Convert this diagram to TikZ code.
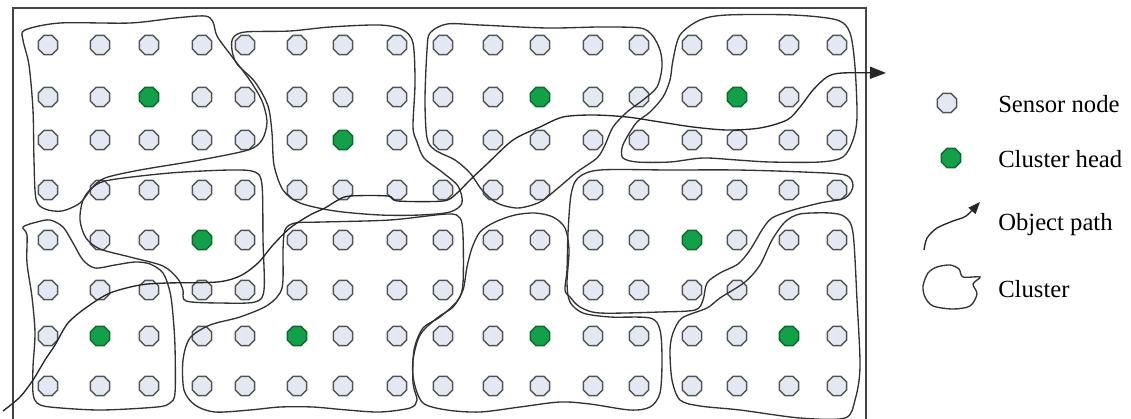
\documentclass[tikz,border=0pt]{standalone}
\usepackage{fontspec}
\setmainfont{Liberation Serif}
\usetikzlibrary{shapes.geometric,arrows.meta}
\definecolor{nodefill}{HTML}{E3E8F2}
\definecolor{nodeline}{HTML}{555555}
\definecolor{headfill}{HTML}{12A048}
\definecolor{headline}{HTML}{0B6B2E}
\definecolor{curvecol}{HTML}{333333}
\definecolor{framecol}{HTML}{444444}
\expandafter\def\csname hd3-2\endcsname{}
\expandafter\def\csname hd7-3\endcsname{}
\expandafter\def\csname hd11-2\endcsname{}
\expandafter\def\csname hd15-2\endcsname{}
\expandafter\def\csname hd4-5\endcsname{}
\expandafter\def\csname hd14-5\endcsname{}
\expandafter\def\csname hd2-7\endcsname{}
\expandafter\def\csname hd6-7\endcsname{}
\expandafter\def\csname hd11-7\endcsname{}
\expandafter\def\csname hd16-7\endcsname{}
\begin{document}
\begin{tikzpicture}[x=0.75pt,y=-0.75pt,
  sensor/.style={regular polygon,regular polygon sides=8,minimum size=15.6pt,inner sep=0pt,fill=nodefill,draw=nodeline,line width=1pt},
  head/.style={sensor,fill=headfill,draw=headline},
  cluster/.style={draw=curvecol,line width=1pt},
  track/.style={draw=black!85,line width=1pt,-{Triangle[length=12pt,width=9pt]}},
  legendtrack/.style={draw=black!85,line width=1pt,-{Triangle[length=9pt,width=7pt]}},
  legend/.style={font=\fontsize{18.5}{20}\selectfont,anchor=base west,inner sep=0pt}]
\useasboundingbox (0,0) rectangle (1131,418);
\clip (0,0) rectangle (1131,418);
% frame
\draw[framecol,line width=1.1pt] (13,8) rectangle (866,440);
% sensor grid
\foreach \x [count=\i] in {48,100,149,202,245,297,343,397,443,493,540,593,639,692,737,789,837} {
  \foreach \y [count=\j] in {45,97,140,190,240,290,336,386} {
    \ifcsname hd\i-\j\endcsname
      \node[head] (n\i-\j) at (\x,\y) {};
    \else
      \node[sensor] (n\i-\j) at (\x,\y) {};
    \fi
  }
}
% clusters
\draw[cluster] plot[smooth cycle,tension=0.5] coordinates {(25,30) (60,23) (130,23) (175,18) (205,16) (213,22) (217,36) (230,54) (249,79) (262,101) (267,122) (262,140) (248,150) (200,160) (140,170) (105,178) (92,188) (80,203) (62,211) (45,209) (36,199) (34,160) (33,110) (29,65) (23,40)};
\draw[cluster] plot[smooth cycle,tension=0.5] coordinates {(233,38) (245,32) (290,31) (330,27) (380,25) (403,30) (413,43) (415,83) (413,127) (417,142) (424,158) (442,172) (458,186) (462,203) (450,212) (420,215) (380,215) (335,211) (300,203) (283,190) (274,165) (272,133) (268,106) (255,82) (237,64) (232,50)};
\draw[cluster] plot[smooth cycle,tension=0.5] coordinates {(430,33) (447,24) (480,25) (547,28) (600,27) (640,28) (652,35) (660,50) (662,67) (657,87) (643,100) (627,112) (613,127) (605,145) (597,158) (577,172) (558,188) (540,202) (518,208) (497,203) (482,190) (470,173) (455,160) (435,150) (427,138) (425,100) (427,50)};
\draw[cluster] plot[smooth cycle,tension=0.5] coordinates {(673,60) (680,35) (700,20) (727,15) (793,15) (837,20) (850,33) (855,67) (857,117) (853,140) (843,157) (820,162) (770,162) (737,160) (703,158) (670,162) (637,162) (623,158) (622,148) (627,137) (637,122) (650,112) (663,97) (670,80)};
\draw[cluster] plot[smooth cycle,tension=0.5] coordinates {(93,187) (110,180) (170,173) (230,170) (255,172) (262,185) (263,240) (264,290) (255,302) (220,303) (186,301) (183,290) (178,279) (163,266) (130,257) (100,249) (86,238) (80,220) (83,200)};
\draw[cluster] plot[smooth cycle,tension=0.5] coordinates {(578,178) (600,170) (670,170) (737,170) (803,172) (845,175) (853,186) (845,198) (820,203) (793,210) (772,218) (762,230) (750,250) (738,264) (720,273) (707,283) (703,300) (695,310) (660,312) (600,313) (580,307) (570,297) (565,290) (567,270) (568,233) (571,195)};
\draw[cluster] plot[smooth cycle,tension=0.5] coordinates {(23,227) (37,222) (50,220) (63,227) (73,243) (83,260) (95,268) (115,265) (135,262) (150,264) (163,273) (170,292) (173,315) (175,347) (175,393) (170,403) (157,407) (100,410) (50,407) (37,403) (33,393) (33,367) (35,333) (32,297) (27,263) (27,235)};
\draw[cluster] plot[smooth cycle,tension=0.5] coordinates {(285,230) (295,223) (323,222) (390,220) (447,214) (460,218) (463,235) (463,283) (458,300) (440,317) (423,328) (414,350) (413,383) (417,400) (410,408) (380,412) (347,410) (313,407) (280,407) (250,410) (215,412) (195,405) (184,390) (183,360) (190,338) (210,325) (240,317) (268,305) (282,288) (283,250)};
\draw[cluster] plot[smooth cycle,tension=0.5] coordinates {(423,403) (414,382) (413,360) (420,335) (437,318) (453,307) (463,290) (467,267) (472,248) (480,232) (495,222) (515,215) (535,213) (553,217) (565,228) (569,250) (567,283) (570,302) (583,313) (610,317) (650,318) (660,330) (662,360) (660,393) (650,407) (630,410) (590,404) (560,402) (520,407) (480,412) (447,410)};
\draw[cluster] plot[smooth cycle,tension=0.5] coordinates {(785,222) (800,214) (830,213) (845,217) (853,233) (857,300) (860,367) (855,400) (845,418) (800,418) (740,410) (700,406) (680,400) (672,380) (670,350) (673,333) (682,318) (707,308) (720,298) (745,282) (760,265) (772,240)};
% object path
\coordinate (trackstart) at (3,411);
\coordinate (trackend) at (886,73);
\draw[track] plot[smooth,tension=0.5] coordinates {(trackstart) (20,397) (33,380) (45,360) (55,345) (68,323) (87,307) (110,293) (140,285) (167,283) (217,282) (240,276) (258,263) (273,245) (290,228) (310,215) (325,208) (338,200) (350,196) (388,196) (398,201) (443,201) (456,194) (470,180) (487,164) (513,140) (540,127) (563,117) (593,115) (627,117) (660,122) (693,127) (727,130) (760,128) (787,120) (800,107) (813,90) (827,77) (842,73) (trackend)};
% legend
\node[sensor] (lsensor) at (947,103) {};
\node[legend] (lsensortext) at (998,112) {Sensor node};
\node[head] (lhead) at (951,158) {};
\node[legend] (lheadtext) at (998,167) {Cluster head};
\coordinate (lpathstart) at (924,250);
\coordinate (lpathend) at (980,202);
\draw[legendtrack] plot[smooth,tension=0.5] coordinates {(lpathstart) (927,238) (937,228) (953,221) (966,216) (lpathend)};
\node[legend] (lpathtext) at (998,230) {Object path};
\draw[cluster] plot[smooth cycle,tension=0.5] coordinates {(937,267) (950,265) (959,269) (963,277) (980,277) (973,284) (977,294) (970,306) (953,309) (933,306) (925,297) (923,286) (928,273)};
\node[legend] (lclustertext) at (998,297) {Cluster};
\end{tikzpicture}
\end{document}
